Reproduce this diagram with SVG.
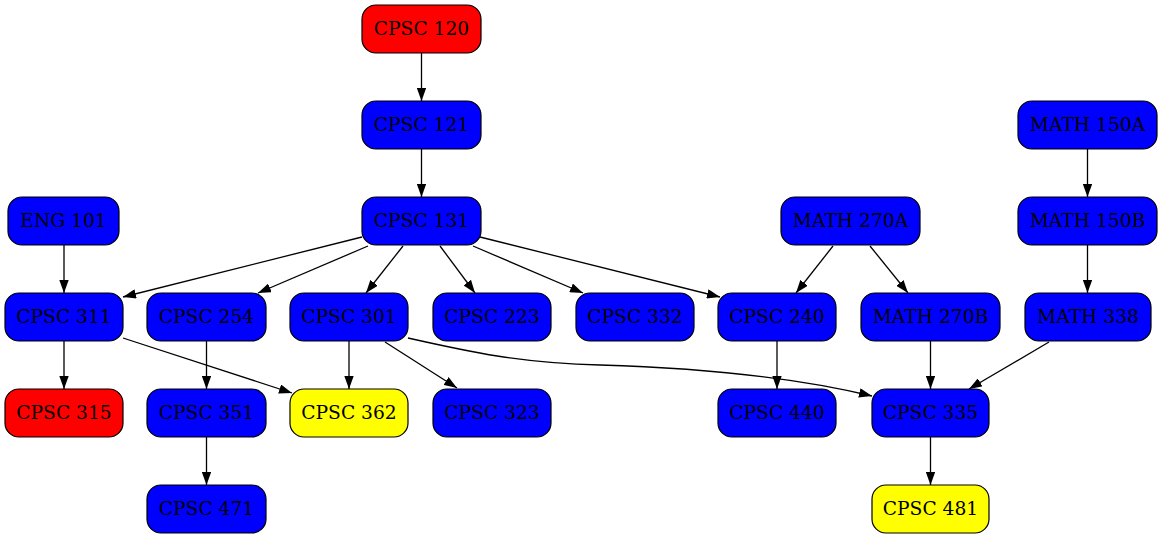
<svg xmlns="http://www.w3.org/2000/svg" width="1164" height="539" viewBox="0 0 1164 539">
<style>
.n rect{stroke:#000;stroke-width:1.2}
.b rect{fill:#0000ff}
.r rect{fill:#ff0000}
.y rect{fill:#ffff00}
.n text{font-family:"DejaVu Serif","Liberation Serif",serif;font-size:18.67px;text-anchor:middle;fill:#000}
.e path{fill:none;stroke:#000;stroke-width:1.3}
</style>
<defs>
<marker id="ah" viewBox="0 0 13 9.4" refX="13" refY="4.7" markerWidth="13" markerHeight="9.4" markerUnits="userSpaceOnUse" orient="auto">
<polygon points="0,0 13,4.7 0,9.4" fill="#000"/>
</marker>
</defs>
<rect width="1164" height="539" fill="#fff"/>
<g id="edges" class="e">
<path d="M421.5,53 L421.5,101" marker-end="url(#ah)"/>
<path d="M421.5,149 L421.5,197" marker-end="url(#ah)"/>
<path d="M362,237 L123,297" marker-end="url(#ah)"/>
<path d="M368,246 L258,293" marker-end="url(#ah)"/>
<path d="M403,246 L366,293" marker-end="url(#ah)"/>
<path d="M440,246 L475,293" marker-end="url(#ah)"/>
<path d="M473,246 L583,293" marker-end="url(#ah)"/>
<path d="M480,237 L720,297" marker-end="url(#ah)"/>
<path d="M64,245 L64,293" marker-end="url(#ah)"/>
<path d="M1087.5,149 L1087.5,197" marker-end="url(#ah)"/>
<path d="M1087.5,245 L1087.5,293" marker-end="url(#ah)"/>
<path d="M833,246 L796,293" marker-end="url(#ah)"/>
<path d="M870,246 L908,293" marker-end="url(#ah)"/>
<path d="M64,341 L64,389" marker-end="url(#ah)"/>
<path d="M123,338 L292,393" marker-end="url(#ah)"/>
<path d="M206.5,341 L206.5,389" marker-end="url(#ah)"/>
<path d="M349,341 L349,389" marker-end="url(#ah)"/>
<path d="M385,342 L457,388" marker-end="url(#ah)"/>
<path d="M408,338 C470,352 520,363 600,365 C700,368 790,376 872,396" marker-end="url(#ah)"/>
<path d="M777,341 L777,389" marker-end="url(#ah)"/>
<path d="M930.5,341 L930.5,389" marker-end="url(#ah)"/>
<path d="M1049,342 L969,389" marker-end="url(#ah)"/>
<path d="M206.5,437 L206.5,485" marker-end="url(#ah)"/>
<path d="M930.5,437 L930.5,485" marker-end="url(#ah)"/>
</g>
<g id="cpsc120" class="n r"><rect x="362" y="5" width="119" height="48" rx="14"/><text x="421.5" y="35">CPSC 120</text></g>
<g id="cpsc121" class="n b"><rect x="362" y="101" width="119" height="48" rx="14"/><text x="421.5" y="131">CPSC 121</text></g>
<g id="math150a" class="n b"><rect x="1018" y="101" width="139" height="48" rx="14"/><text x="1087.5" y="131">MATH 150A</text></g>
<g id="eng101" class="n b"><rect x="8" y="197" width="111" height="48" rx="14"/><text x="63.5" y="227">ENG 101</text></g>
<g id="cpsc131" class="n b"><rect x="362" y="197" width="119" height="48" rx="14"/><text x="421.5" y="227">CPSC 131</text></g>
<g id="math270a" class="n b"><rect x="781" y="197" width="139" height="48" rx="14"/><text x="850.5" y="227">MATH 270A</text></g>
<g id="math150b" class="n b"><rect x="1018" y="197" width="139" height="48" rx="14"/><text x="1087.5" y="227">MATH 150B</text></g>
<g id="cpsc311" class="n b"><rect x="5" y="293" width="118" height="48" rx="14"/><text x="64" y="323">CPSC 311</text></g>
<g id="cpsc254" class="n b"><rect x="147" y="293" width="119" height="48" rx="14"/><text x="206.5" y="323">CPSC 254</text></g>
<g id="cpsc301" class="n b"><rect x="290" y="293" width="118" height="48" rx="14"/><text x="349" y="323">CPSC 301</text></g>
<g id="cpsc223" class="n b"><rect x="433" y="293" width="118" height="48" rx="14"/><text x="492" y="323">CPSC 223</text></g>
<g id="cpsc332" class="n b"><rect x="576" y="293" width="118" height="48" rx="14"/><text x="635" y="323">CPSC 332</text></g>
<g id="cpsc240" class="n b"><rect x="718" y="293" width="118" height="48" rx="14"/><text x="777" y="323">CPSC 240</text></g>
<g id="math270b" class="n b"><rect x="861" y="293" width="139" height="48" rx="14"/><text x="930.5" y="323">MATH 270B</text></g>
<g id="math338" class="n b"><rect x="1025" y="293" width="126" height="48" rx="14"/><text x="1088" y="323">MATH 338</text></g>
<g id="cpsc315" class="n r"><rect x="5" y="389" width="118" height="48" rx="14"/><text x="64" y="419">CPSC 315</text></g>
<g id="cpsc351" class="n b"><rect x="147" y="389" width="119" height="48" rx="14"/><text x="206.5" y="419">CPSC 351</text></g>
<g id="cpsc362" class="n y"><rect x="290" y="389" width="118" height="48" rx="14"/><text x="349" y="419">CPSC 362</text></g>
<g id="cpsc323" class="n b"><rect x="433" y="389" width="118" height="48" rx="14"/><text x="492" y="419">CPSC 323</text></g>
<g id="cpsc440" class="n b"><rect x="718" y="389" width="118" height="48" rx="14"/><text x="777" y="419">CPSC 440</text></g>
<g id="cpsc335" class="n b"><rect x="872" y="389" width="117" height="48" rx="14"/><text x="930.5" y="419">CPSC 335</text></g>
<g id="cpsc471" class="n b"><rect x="147" y="485" width="119" height="48" rx="14"/><text x="206.5" y="515">CPSC 471</text></g>
<g id="cpsc481" class="n y"><rect x="872" y="485" width="117" height="48" rx="14"/><text x="930.5" y="515">CPSC 481</text></g>
</svg>
